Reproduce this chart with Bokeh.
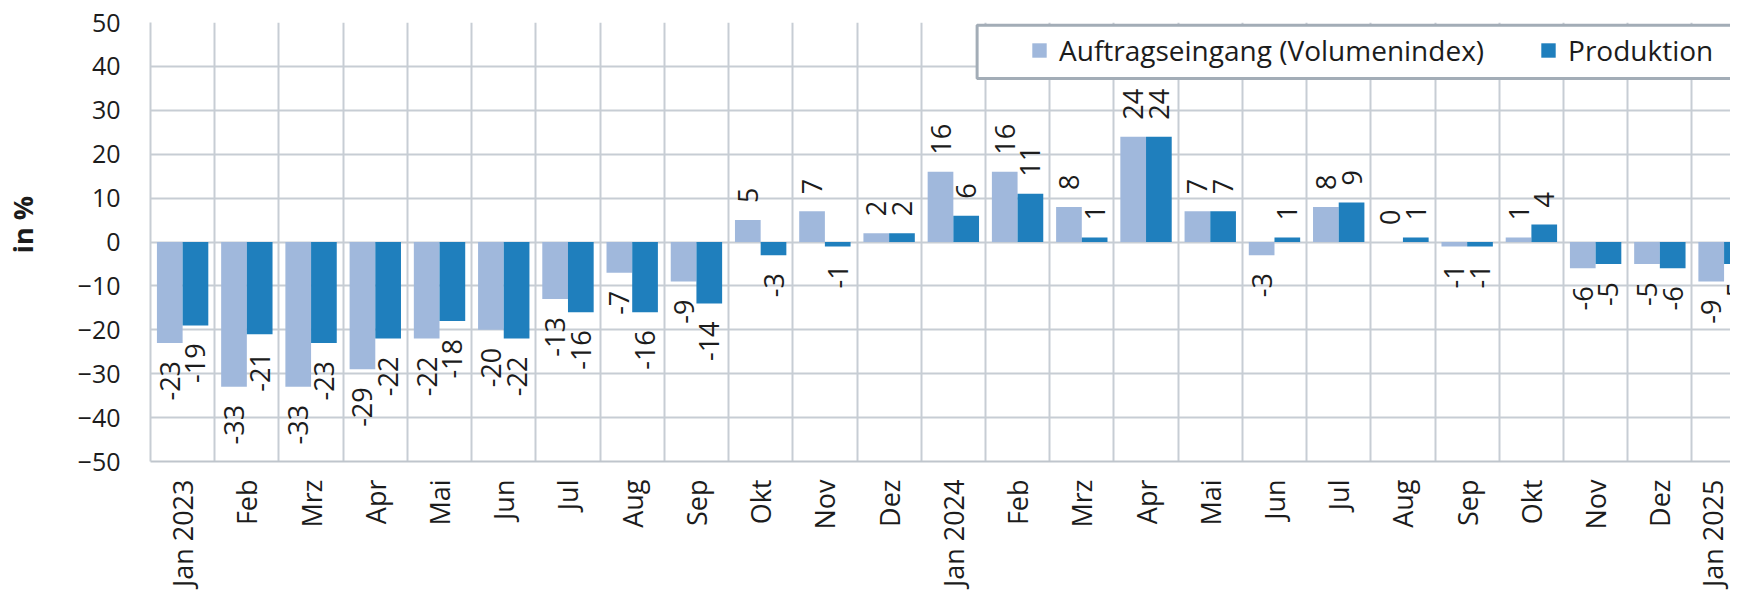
from math import pi
from bokeh.plotting import figure
from bokeh.models import (ColumnDataSource, Range1d, FixedTicker,
                          Legend, LegendItem, BoxAnnotation)
from bokeh.core.properties import value
from bokeh.embed import file_html
from bokeh.resources import INLINE

# ---------------- data ----------------
months = ["Jan 2023", "Feb", "Mrz", "Apr", "Mai", "Jun", "Jul", "Aug", "Sep", "Okt", "Nov", "Dez",
          "Jan 2024", "Feb", "Mrz", "Apr", "Mai", "Jun", "Jul", "Aug", "Sep", "Okt", "Nov", "Dez",
          "Jan 2025"]
auftragseingang = [-23, -33, -33, -29, -22, -20, -13, -7, -9, 5, 7, 2,
                   16, 16, 8, 24, 7, -3, 8, 0, -1, 1, -6, -5, -9]
produktion = [-19, -21, -23, -22, -18, -22, -16, -16, -14, -3, -1, 2,
              6, 11, 1, 24, 7, 1, 9, 1, -1, 4, -5, -6, -5]
series_names = ["Auftragseingang (Volumenindex)", "Produktion"]
y_ticks = [-50, -40, -30, -20, -10, 0, 10, 20, 30, 40, 50]
y_axis_title = "in %"

# ---------------- style ----------------
FONT = "Open Sans"
LIGHT = "#a0b8dc"
DARK = "#1f7fbd"
GRID = "#c7cdd4"
TXT = "#1c1c1c"

n = len(months)
centers = [i + 0.5 for i in range(n)]
bounds = list(range(n + 1))

p = figure(frame_width=1580, frame_height=439,
           x_range=Range1d(0, 24.6), y_range=Range1d(-50, 50),
           output_backend="svg", toolbar_location=None,
           min_border_left=143, min_border_top=22, min_border_right=0, min_border_bottom=0)
p.outline_line_color = None
p.background_fill_color = "white"
p.border_fill_color = "white"

# bars
rends = []
for vals, off, col in [(auftragseingang, -0.2, LIGHT), (produktion, 0.2, DARK)]:
    xs = [c + off for c in centers]
    src = ColumnDataSource(dict(x=xs, top=vals))
    r = p.vbar(x="x", top="top", bottom=0, width=0.4, source=src,
               fill_color=col, line_color=None)
    rends.append(r)

    pos = ColumnDataSource(dict(x=[x for x, v in zip(xs, vals) if v >= 0],
                                y=[v for v in vals if v >= 0],
                                t=[str(v) for v in vals if v >= 0]))
    neg = ColumnDataSource(dict(x=[x for x, v in zip(xs, vals) if v < 0],
                                y=[v for v in vals if v < 0],
                                t=[str(v) for v in vals if v < 0]))
    p.text(x="x", y="y", text="t", source=pos, angle=pi / 2, text_align="left",
           text_baseline="middle", y_offset=-17, text_font=value(FONT),
           text_font_size="27px", text_color=TXT)
    p.text(x="x", y="y", text="t", source=neg, angle=pi / 2, text_align="right",
           text_baseline="middle", y_offset=18, text_font=value(FONT),
           text_font_size="27px", text_color=TXT)

# axes
p.xaxis.ticker = FixedTicker(ticks=centers)
p.xaxis.major_label_overrides = {c: m for c, m in zip(centers, months)}
p.xaxis.major_label_orientation = pi / 2
p.xaxis.major_label_standoff = 18
p.xaxis.major_tick_out = 0
p.xaxis.major_tick_in = 0
p.xaxis.major_tick_line_color = None
p.xaxis.minor_tick_line_color = None
p.xaxis.axis_line_color = "#bfc5cc"
p.xaxis.axis_line_width = 2
p.xaxis.major_label_text_font = FONT
p.xaxis.major_label_text_font_size = "27px"
p.xaxis.major_label_text_color = TXT

p.yaxis.ticker = FixedTicker(ticks=y_ticks)
p.yaxis.major_tick_out = 0
p.yaxis.major_tick_in = 0
p.yaxis.major_tick_line_color = None
p.yaxis.minor_tick_line_color = None
p.yaxis.axis_line_color = GRID
p.yaxis.axis_line_width = 2
p.yaxis.major_label_standoff = 30
p.yaxis.major_label_text_font = FONT
p.yaxis.major_label_text_font_size = "25px"
p.yaxis.major_label_text_color = TXT
# non-breaking spaces before the title lift it a little above the frame centre
p.yaxis.axis_label = "\u00a0" * 5 + y_axis_title
p.yaxis.axis_label_text_font = FONT
p.yaxis.axis_label_text_font_size = "27px"
p.yaxis.axis_label_text_font_style = "bold"
p.yaxis.axis_label_text_color = TXT
p.yaxis.axis_label_standoff = 34

p.xgrid.ticker = FixedTicker(ticks=bounds)
p.xgrid.grid_line_color = GRID
p.xgrid.grid_line_width = 2
p.ygrid.ticker = FixedTicker(ticks=y_ticks)
p.ygrid.grid_line_color = GRID
p.ygrid.grid_line_width = 2

# legend frame + legend
box = BoxAnnotation(left=12.87, right=40, top=49.38, bottom=37.24,
                    fill_color="white", fill_alpha=1.0,
                    line_color="#a3adb7", line_width=3, line_alpha=1.0)
p.add_layout(box)

legend = Legend(items=[LegendItem(label=series_names[0], renderers=[rends[0]]),
                       LegendItem(label=series_names[1], renderers=[rends[1]])],
                location=(880, 392), orientation="horizontal",
                border_line_alpha=0, background_fill_alpha=0,
                padding=0, margin=0, spacing=55, label_standoff=11,
                glyph_width=18, glyph_height=18, label_height=36,
                label_text_font=FONT, label_text_font_size="28px",
                label_text_color=TXT)
p.add_layout(legend)

open("out.html", "w").write(file_html(p, INLINE))
